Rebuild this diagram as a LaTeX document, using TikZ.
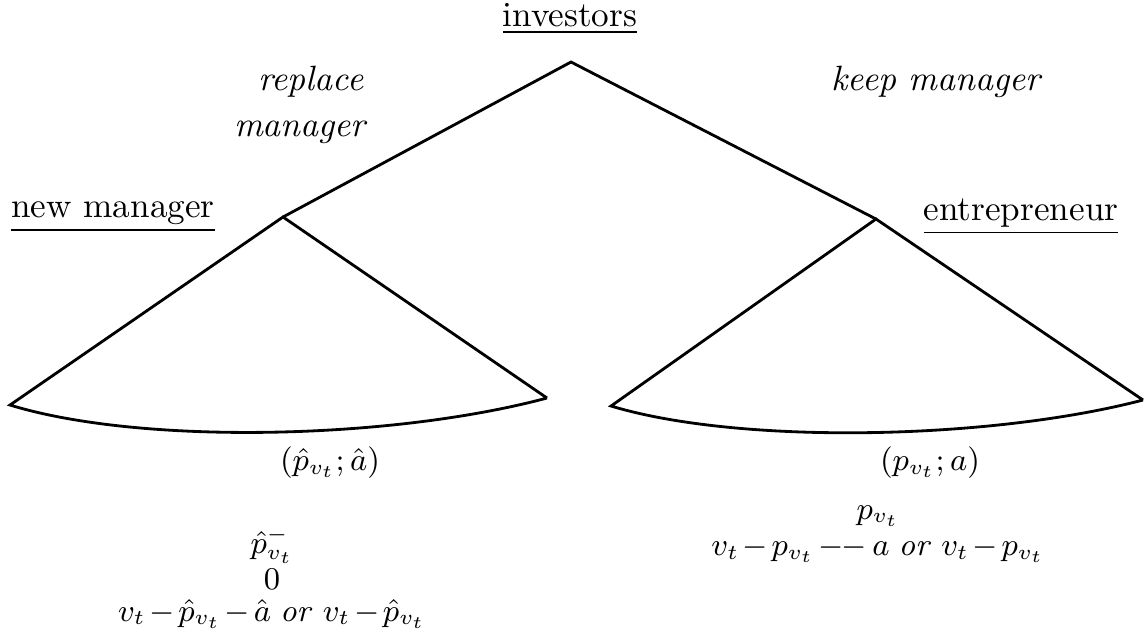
\documentclass[tikz,border=0pt]{standalone}
\usepackage{amsmath,amssymb}
\usepackage{tikz}
\usetikzlibrary{positioning}

\tikzset{
  player/.style={font=\normalsize, inner sep=1pt},
  move/.style={font=\normalsize\itshape, inner sep=1pt},
  payoff/.style={font=\small, inner sep=0pt, execute at begin node={\medmuskip=2mu}},
  branch/.style={line width=0.8pt},
}

\begin{document}
\begin{tikzpicture}[x=0.01cm, y=-0.01cm, node distance=1mm]
\useasboundingbox (0,0) rectangle (1146,635);
% decision points
\coordinate (root) at (571,62);
\coordinate (nm) at (283,217);
\coordinate (en) at (876,219);
\coordinate (nmL) at (10,405);
\coordinate (nmR) at (547,398);
\coordinate (enL) at (611,406);
\coordinate (enR) at (1143,400);
% players
\node[player] (inv) at (570,19) {\underline{investors}};
\node[player] (nmlab) at (113,217) {\underline{new manager}};
\node[player] (enlab) at (1021,217) {\underline{entrepreneur}};
% moves
\node[move] (rep) at (311,82) {replace};
\node[move] (man) at (300,132) {manager};
\node[move] (keep) at (936,82) {keep manager};
% tree
\draw[branch] (nm) -- (root) -- (en);
\draw[branch] (nmR) -- (nm) -- (nmL) .. controls (140,445) and (390,440) .. (nmR);
\draw[branch] (enR) -- (en) -- (enL) .. controls (740,445) and (990,440) .. (enR);
% strategies
\node[payoff] (st1) at (330,463) {$(\hat{p}_{v_t};\hat{a})$};
\node[payoff] (st2) at (930,463) {$(p_{v_t};a)$};
% payoffs
\node[payoff] (p1) at (272,545) {$\hat{p}^{-}_{v_t}$};
\node[payoff] (z1) at (272,579) {$0$};
\node[payoff] (w1) at (272,614) {$v_t-\hat{p}_{v_t}-\hat{a}\;\mathit{or}\;v_t-\hat{p}_{v_t}$};
\node[payoff] (p2) at (878,516) {$p_{v_t}$};
\node[payoff] (w2) at (878,550) {$v_t-p_{v_t}-\!-\,a\;\mathit{or}\;v_t-p_{v_t}$};
\end{tikzpicture}
\end{document}
